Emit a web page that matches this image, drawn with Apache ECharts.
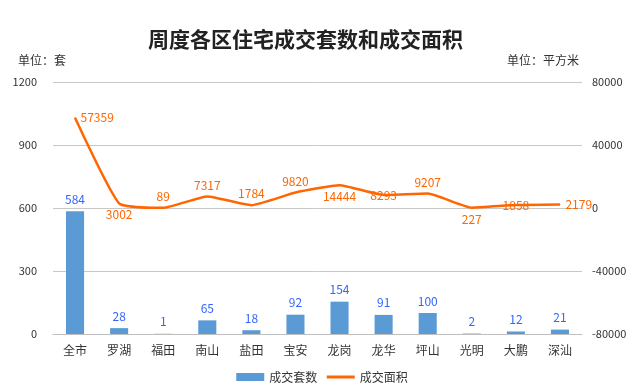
<!DOCTYPE html>
<html><head><meta charset="utf-8">
<script src="https://cdn.jsdelivr.net/npm/echarts@6/dist/echarts.min.js"></script>
<style>html,body{margin:0;padding:0;background:#fff}#c{width:644px;height:391px}</style>
</head><body><div id="c"></div>
<script>
const categories = ['全市','罗湖','福田','南山','盐田','宝安','龙岗','龙华','坪山','光明','大鹏','深汕'];
const countValues = [584, 28, 1, 65, 18, 92, 154, 91, 100, 2, 12, 21];
const areaValues = [57359, 3002, 89, 7317, 1784, 9820, 14444, 8293, 9207, 227, 1858, 2179];
const areaLabelPos = ['right','bottom','top','top','top','top','bottom','inside','top','bottom','inside','right'];

const chart = echarts.init(document.getElementById('c'));
const font = '"Noto Sans CJK SC", "Noto Sans", sans-serif';
chart.setOption({
  animation: false,
  textStyle: { fontFamily: font },
  title: [
    { text: '周度各区住宅成交套数和成交面积', left: 143, top: 24,
      textStyle: { fontSize: 21, fontWeight: 'bold', color: '#222', fontFamily: font } },
    { text: '单位：套', left: 13, top: 49, textStyle: { fontSize: 12, fontWeight: 'normal', color: '#333' } },
    { text: '单位：平方米', right: 60, top: 49, textStyle: { fontSize: 12, fontWeight: 'normal', color: '#333' } }
  ],
  legend: {
    bottom: 3, left: 'center', itemWidth: 28, itemHeight: 8, itemGap: 8,
    textStyle: { fontSize: 12, color: '#333' },
    data: [
      { name: '成交套数', icon: 'rect' },
      { name: '成交面积', itemStyle: { opacity: 0 }, lineStyle: { width: 3, color: '#ff6600' } }
    ]
  },
  grid: { left: 53, right: 62, top: 82, bottom: 57 },
  xAxis: {
    type: 'category', data: categories,
    axisTick: { show: false },
    axisLine: { lineStyle: { color: '#bfbfbf' } },
    axisLabel: { color: '#333', fontSize: 12, margin: 10 }
  },
  yAxis: [
    { type: 'value', min: 0, max: 1200, interval: 300,
      axisLine: { show: false }, axisTick: { show: false },
      axisLabel: { color: '#333', fontSize: 11, margin: 16, formatter: v => String(v) },
      splitLine: { lineStyle: { color: '#c8c8c8' } } },
    { type: 'value', min: -80000, max: 80000, interval: 40000,
      axisLine: { show: false }, axisTick: { show: false },
      axisLabel: { color: '#333', fontSize: 11, margin: 10, formatter: v => String(v) },
      splitLine: { show: false } }
  ],
  series: [
    { name: '成交套数', type: 'bar', yAxisIndex: 0, data: countValues, barWidth: '41%',
      itemStyle: { color: '#5b9bd5' },
      label: { show: true, position: 'top', color: '#3366ff', fontSize: 12, distance: 6 } },
    { name: '成交面积', type: 'line', yAxisIndex: 1, smooth: 0.15, showSymbol: true, symbol: 'circle', symbolSize: 1,
      lineStyle: { color: '#ff6600', width: 2.5 }, itemStyle: { color: '#ff6600' },
      data: areaValues.map((v, i) => ({ value: v, label: { position: areaLabelPos[i] } })),
      label: { show: true, color: '#ff6600', fontSize: 12, distance: 5, formatter: p => String(p.value) } }
  ]
});
</script></body></html>
